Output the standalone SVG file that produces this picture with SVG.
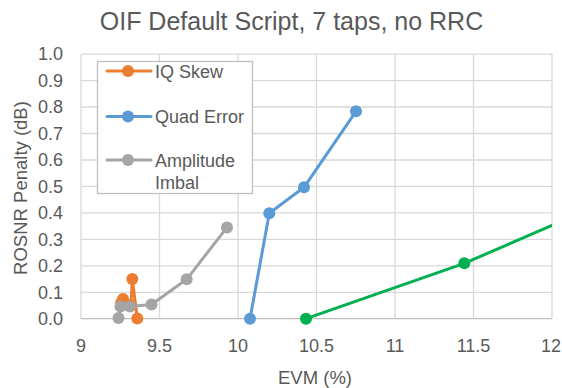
<svg xmlns="http://www.w3.org/2000/svg" width="562" height="388" viewBox="0 0 562 388">
<style>
text{font-family:"Liberation Sans",Arial,sans-serif;fill:#595959}
.grid{stroke:#d9d9d9;stroke-width:1.3;fill:none}
.axis{stroke:#bfbfbf;stroke-width:1.3}
.tick{font-size:18px}
.ylab{text-anchor:end}
.xlab{text-anchor:middle}
.s{fill:none;stroke-width:3;stroke-linejoin:round;stroke-linecap:round}
.or{stroke:#ed7d31}.orf{fill:#ed7d31}
.bl{stroke:#5b9bd5}.blf{fill:#5b9bd5}
.gr{stroke:#a5a5a5}.grf{fill:#a5a5a5}
.gn{stroke:#00b050}.gnf{fill:#00b050}
</style>
<defs>
<clipPath id="plot"><rect x="75" y="45" width="477" height="285"/></clipPath>
</defs>
<rect width="562" height="388" fill="#ffffff"/>
<text x="291.5" y="30" font-size="25" text-anchor="middle">OIF Default Script, 7 taps, no RRC</text>
<g id="grid">
<path class="grid" d="M81 54.1H552M81 80.6H552M81 107H552M81 133.5H552M81 160H552M81 186.4H552M81 212.9H552M81 239.4H552M81 265.8H552M81 292.3H552"/>
<path class="grid" d="M81 54.1V318.7M159.5 54.1V318.7M238 54.1V318.7M316.5 54.1V318.7M395 54.1V318.7M473.5 54.1V318.7M552 54.1V318.7"/>
<line class="axis" x1="81" y1="318.7" x2="552" y2="318.7"/>
</g>
<g id="y-axis" class="tick">
<text class="ylab" x="63" y="60.4">1.0</text>
<text class="ylab" x="63" y="86.9">0.9</text>
<text class="ylab" x="63" y="113.3">0.8</text>
<text class="ylab" x="63" y="139.8">0.7</text>
<text class="ylab" x="63" y="166.3">0.6</text>
<text class="ylab" x="63" y="192.7">0.5</text>
<text class="ylab" x="63" y="219.2">0.4</text>
<text class="ylab" x="63" y="245.7">0.3</text>
<text class="ylab" x="63" y="272.1">0.2</text>
<text class="ylab" x="63" y="298.6">0.1</text>
<text class="ylab" x="63" y="325">0.0</text>
<text x="26.5" y="188" font-size="18.5" text-anchor="middle" transform="rotate(-90 26.5 188)">ROSNR Penalty (dB)</text>
</g>
<g id="x-axis" class="tick">
<text class="xlab" x="81" y="352">9</text>
<text class="xlab" x="159.5" y="352">9.5</text>
<text class="xlab" x="238" y="352">10</text>
<text class="xlab" x="316.5" y="352">10.5</text>
<text class="xlab" x="395" y="352">11</text>
<text class="xlab" x="473.5" y="352">11.5</text>
<text class="xlab" x="551" y="352">12</text>
<text class="xlab" x="315" y="384" font-size="18.5">EVM (%)</text>
</g>
<g id="connectors">
<g id="series-iq-skew">
<polyline class="s or" points="121,303 123,299 131,305 132.3,279 137.3,318.5"/>
<g class="orf"><circle cx="121" cy="303" r="6"/><circle cx="123" cy="299" r="6"/><circle cx="131" cy="305" r="6"/><circle cx="132.3" cy="279" r="6"/><circle cx="137.3" cy="318.5" r="6"/></g>
</g>
<g id="series-quad-error">
<polyline class="s bl" points="250,318.7 269.3,213.3 304,187.3 356,111.3"/>
<g class="blf"><circle cx="250" cy="318.7" r="6"/><circle cx="269.3" cy="213.3" r="6"/><circle cx="304" cy="187.3" r="6"/><circle cx="356" cy="111.3" r="6"/></g>
</g>
<g id="series-amplitude">
<polyline class="s gr" points="227,227.4 186.7,279.3 151.5,304.5 130,306.5 120.5,306.5 118.5,318"/>
<g class="grf"><circle cx="227" cy="227.4" r="6"/><circle cx="186.7" cy="279.3" r="6"/><circle cx="151.5" cy="304.5" r="6"/><circle cx="130" cy="306.5" r="6"/><circle cx="120.5" cy="306.5" r="6"/><circle cx="118.5" cy="318" r="6"/></g>
</g>
<g id="series-green">
<polyline class="s gn" clip-path="url(#plot)" points="306,318.7 464.3,263.3 560,222"/>
<g class="gnf"><circle cx="306" cy="318.7" r="6"/><circle cx="464.3" cy="263.3" r="6"/></g>
</g>
</g>
<g id="legend">
<rect x="97.5" y="61.5" width="155" height="132" fill="#ffffff" stroke="#bfbfbf" stroke-width="1.3"/>
<line class="s or" x1="107" y1="71" x2="151" y2="71"/><circle class="orf" cx="128" cy="71" r="6"/>
<text x="155" y="77.5" font-size="18">IQ Skew</text>
<line class="s bl" x1="107" y1="116.5" x2="151" y2="116.5"/><circle class="blf" cx="128" cy="116.5" r="6"/>
<text x="155" y="122.7" font-size="18">Quad Error</text>
<line class="s gr" x1="107" y1="160" x2="151" y2="160"/><circle class="grf" cx="128" cy="160" r="6"/>
<text x="155" y="166.7" font-size="18">Amplitude</text>
<text x="155" y="189.3" font-size="18">Imbal</text>
</g>
</svg>
